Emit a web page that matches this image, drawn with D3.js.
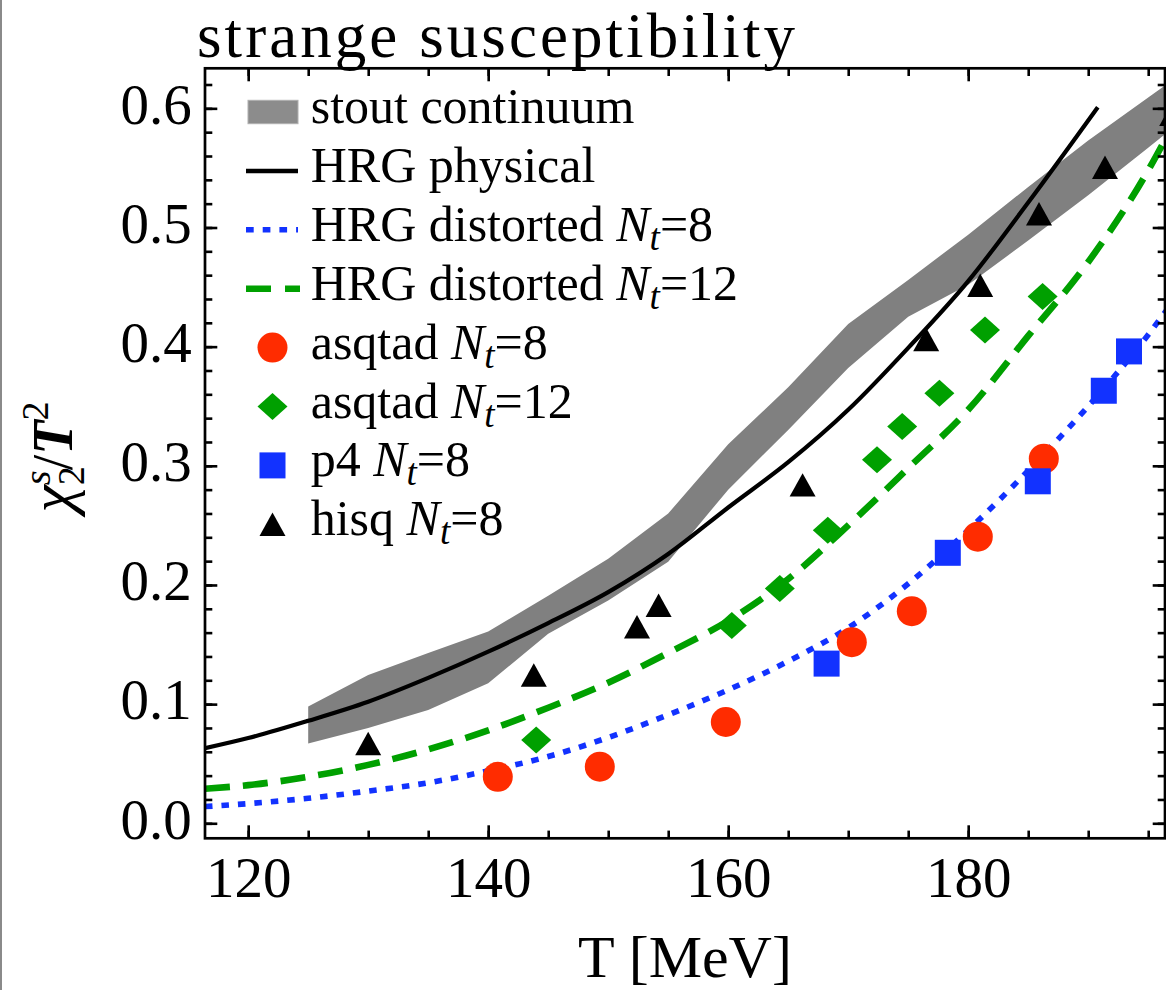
<!DOCTYPE html>
<html>
<head>
<meta charset="utf-8">
<script src="https://cdn.jsdelivr.net/npm/d3@7"></script>
<style>
  html, body { margin: 0; padding: 0; background: #fff; }
  svg { display: block; font-family: "Liberation Serif", "Times New Roman", serif; }
</style>
</head>
<body>
<div id="chart"></div>
<script>
/* strange susceptibility chi2s/T^2 vs T */

// stout continuum band
const bandT    = [125, 130, 135, 140, 145, 150, 155, 160, 165, 170, 175, 180, 185, 190, 195, 198];
const bandHigh = [0.098, 0.1245, 0.143, 0.161, 0.191, 0.222, 0.260, 0.318, 0.366, 0.419, 0.456, 0.494, 0.534, 0.573, 0.609, 0.631];
const bandLow  = [0.067, 0.080, 0.095, 0.1175, 0.159, 0.187, 0.2195, 0.280, 0.330, 0.382, 0.425, 0.452, 0.489, 0.527, 0.567, 0.591];

// HRG curves
const hrgPhysT = [116.4, 120, 125, 130, 135, 140, 145, 150, 155, 160, 165, 170, 175, 180, 185, 190.8];
const hrgPhys  = [0.063, 0.0715, 0.086, 0.102, 0.122, 0.144, 0.168, 0.194, 0.226, 0.265, 0.303, 0.347, 0.399, 0.455, 0.521, 0.601];
const hrgDistT = [116.4, 120, 125, 130, 135, 140, 145, 150, 155, 160, 165, 170, 175, 180, 185, 190, 195, 197];
const hrgDist8  = [0.014, 0.0165, 0.021, 0.027, 0.034, 0.044, 0.056, 0.072, 0.091, 0.112, 0.136, 0.164, 0.201, 0.246, 0.296, 0.350, 0.410, 0.437];
const hrgDist12 = [0.029, 0.032, 0.039, 0.049, 0.062, 0.078, 0.097, 0.118, 0.143, 0.170, 0.205, 0.250, 0.298, 0.347, 0.409, 0.471, 0.548, 0.585];

// lattice points
const asqtad8T  = [140.8, 149.3, 159.8, 170.3, 175.3, 180.8, 186.3];
const asqtad8V  = [0.039, 0.0475, 0.085, 0.152, 0.178, 0.2405, 0.306];
const asqtad12T = [144.0, 160.3, 164.3, 168.3, 172.4, 174.5, 177.6, 181.4, 186.2];
const asqtad12V = [0.070, 0.166, 0.197, 0.246, 0.305, 0.333, 0.361, 0.414, 0.442];
const p4T = [168.2, 178.3, 185.8, 191.3, 193.4];
const p4V = [0.134, 0.227, 0.287, 0.363, 0.396];
const hisqT = [130.0, 143.8, 152.4, 154.2, 166.2, 176.5, 181.0, 185.9, 191.4, 197.0];
const hisqV = [0.067, 0.1245, 0.165, 0.183, 0.284, 0.406, 0.4515, 0.5115, 0.5505, 0.595];

// axes
const xMajor = [120, 140, 160, 180];
const xMinor = d3.range(120, 196, 5);
const yMajor = [0.0, 0.1, 0.2, 0.3, 0.4, 0.5, 0.6];
const yMinor = d3.range(0, 0.63, 0.02);

// legend
const legendNames = ["stout continuum", "HRG physical", "HRG distorted", "HRG distorted", "asqtad", "asqtad", "p4", "hisq"];
const legendNt    = [null, null, "8", "12", "8", "12", "8", "8"];
const legendKind  = ["band", "solid", "dot", "dash", "circle", "diamond", "square", "triangle"];

const red = "#ff2c00", blue = "#1232ff", green = "#00a000", gray = "#808080";

const width = 1166, height = 990;
const pLeft = 205, pRight = 1165, pTop = 68.3, pBottom = 838.3;

const svg = d3.select("#chart").append("svg")
  .attr("width", width)
  .attr("height", height);

// left page border
svg.append("rect").attr("x", 0).attr("y", 0).attr("width", 2).attr("height", height).attr("fill", "#8a8a8a");

const x = d3.scaleLinear().domain([116.4, 196.4]).range([pLeft, pRight]);
const y = d3.scaleLinear().domain([-0.0126, 0.6336]).range([pBottom, pTop]);

svg.append("clipPath").attr("id", "plotclip")
  .append("rect").attr("x", pLeft).attr("y", pTop).attr("width", pRight - pLeft).attr("height", pBottom - pTop);

const plot = svg.append("g").attr("clip-path", "url(#plotclip)");

// band
const area = d3.area()
  .x((d, i) => x(bandT[i]))
  .y0((d, i) => y(bandLow[i]))
  .y1((d, i) => y(bandHigh[i]));
plot.append("path").datum(bandT).attr("d", area).attr("fill", gray);

// markers
const marks = svg.append("g");
function diamondPath(cx, cy) {
  return `M${cx},${cy - 13.5}L${cx + 15},${cy}L${cx},${cy + 13.5}L${cx - 15},${cy}Z`;
}
function trianglePath(cx, cy) {
  return `M${cx},${cy - 11.7}L${cx + 13},${cy + 11.7}L${cx - 13},${cy + 11.7}Z`;
}
marks.append("g").selectAll("circle").data(asqtad8T).join("circle")
  .attr("cx", d => x(d)).attr("cy", (d, i) => y(asqtad8V[i])).attr("r", 15).attr("fill", red);
marks.append("g").selectAll("path").data(asqtad12T).join("path")
  .attr("d", (d, i) => diamondPath(x(d), y(asqtad12V[i]))).attr("fill", green);
marks.append("g").selectAll("rect").data(p4T).join("rect")
  .attr("x", d => x(d) - 13).attr("y", (d, i) => y(p4V[i]) - 13)
  .attr("width", 26).attr("height", 26).attr("fill", blue);
marks.append("g").selectAll("path").data(hisqT).join("path")
  .attr("d", (d, i) => trianglePath(x(d), y(hisqV[i]))).attr("fill", "#000");

// HRG lines
const line = (ts) => d3.line().x((d, i) => x(ts[i])).y(d => y(d)).curve(d3.curveMonotoneX);
plot.append("path").datum(hrgPhys).attr("d", line(hrgPhysT))
  .attr("fill", "none").attr("stroke", "#000").attr("stroke-width", 4.2);
plot.append("path").datum(hrgDist8).attr("d", line(hrgDistT))
  .attr("fill", "none").attr("stroke", blue).attr("stroke-width", 5.6).attr("stroke-dasharray", "7.5 9");
plot.append("path").datum(hrgDist12).attr("d", line(hrgDistT))
  .attr("fill", "none").attr("stroke", green).attr("stroke-width", 6.6).attr("stroke-dasharray", "25 13");

// axes (ticks inside the frame)
const fmt = d3.format(".1f");
function axisStyle(g) {
  g.select(".domain").remove();
  g.selectAll("line").attr("stroke", "#000").attr("stroke-width", 2.6);
  g.selectAll("text").attr("font-size", 57).attr("fill", "#000").attr("font-family", "Liberation Serif, serif");
}
svg.append("g").attr("transform", `translate(0,${pBottom})`)
  .call(d3.axisBottom(x).tickValues(xMinor).tickSize(-7.7).tickFormat("")).call(axisStyle);
svg.append("g").attr("transform", `translate(0,${pBottom})`)
  .call(d3.axisBottom(x).tickValues(xMajor).tickSize(-13).tickPadding(18).tickFormat(d3.format("d"))).call(axisStyle);
svg.append("g").attr("transform", `translate(0,${pTop})`)
  .call(d3.axisTop(x).tickValues(xMinor).tickSize(-7.7).tickFormat("")).call(axisStyle);
svg.append("g").attr("transform", `translate(0,${pTop})`)
  .call(d3.axisTop(x).tickValues(xMajor).tickSize(-13).tickFormat("")).call(axisStyle);
svg.append("g").attr("transform", `translate(${pLeft},0)`)
  .call(d3.axisLeft(y).tickValues(yMinor).tickSize(-7.3).tickFormat("")).call(axisStyle);
svg.append("g").attr("transform", `translate(${pLeft},0)`)
  .call(d3.axisLeft(y).tickValues(yMajor).tickSize(-12.3).tickPadding(13.3).tickFormat(fmt)).call(axisStyle)
  .selectAll("text").attr("dy", "0.26em");
svg.append("g").attr("transform", `translate(${pRight},0)`)
  .call(d3.axisRight(y).tickValues(yMinor).tickSize(-7.3).tickFormat("")).call(axisStyle);
svg.append("g").attr("transform", `translate(${pRight},0)`)
  .call(d3.axisRight(y).tickValues(yMajor).tickSize(-12.3).tickFormat("")).call(axisStyle);

// frame
svg.append("rect").attr("x", pLeft).attr("y", pTop).attr("width", pRight - pLeft).attr("height", pBottom - pTop)
  .attr("fill", "none").attr("stroke", "#000").attr("stroke-width", 2.7);

// title
svg.append("text").attr("x", 197).attr("y", 57).attr("font-size", 63)
  .attr("textLength", 598).attr("lengthAdjust", "spacing")
  .text("strange susceptibility");

// axis titles
svg.append("text").attr("x", 685).attr("y", 977).attr("font-size", 60)
  .attr("text-anchor", "middle").text("T [MeV]");

const yt = svg.append("text").attr("transform", "translate(72,457) rotate(-90)")
  .attr("text-anchor", "middle").attr("font-size", 56);
yt.append("tspan").attr("font-style", "italic").attr("font-size", 62).text("χ");
yt.append("tspan").attr("font-size", 38).attr("dy", 12).text("2");
yt.append("tspan").attr("font-size", 38).attr("font-style", "italic").attr("dx", -19).attr("dy", -34).text("s");
yt.append("tspan").attr("dy", 22).text("/");
yt.append("tspan").attr("font-style", "italic").attr("font-weight", "bold").text("T");
yt.append("tspan").attr("font-size", 38).attr("dy", -24).text("2");

// legend
const lg = svg.append("g");
legendNames.forEach((name, i) => {
  const base = 123 + i * 58.9;
  const cy = base - 11;
  const cx = 272.5;
  const kind = legendKind[i];
  if (kind === "band") {
    lg.append("rect").attr("x", 248).attr("y", cy - 11.7).attr("width", 50).attr("height", 23.4)
      .attr("fill", "#8c8c8c").attr("stroke", "#b0b0b0").attr("stroke-width", 1);
  } else if (kind === "solid") {
    lg.append("line").attr("x1", 246).attr("x2", 298).attr("y1", cy).attr("y2", cy)
      .attr("stroke", "#000").attr("stroke-width", 4.5);
  } else if (kind === "dot") {
    lg.append("line").attr("x1", 246).attr("x2", 298).attr("y1", cy).attr("y2", cy)
      .attr("stroke", blue).attr("stroke-width", 5.6).attr("stroke-dasharray", "7.7 9");
  } else if (kind === "dash") {
    lg.append("line").attr("x1", 246).attr("x2", 300).attr("y1", cy).attr("y2", cy)
      .attr("stroke", green).attr("stroke-width", 6.6).attr("stroke-dasharray", "25 14");
  } else if (kind === "circle") {
    lg.append("circle").attr("cx", cx).attr("cy", cy).attr("r", 15).attr("fill", red);
  } else if (kind === "diamond") {
    lg.append("path").attr("d", diamondPath(cx, cy)).attr("fill", green);
  } else if (kind === "square") {
    lg.append("rect").attr("x", cx - 13).attr("y", cy - 13).attr("width", 26).attr("height", 26).attr("fill", blue);
  } else {
    lg.append("path").attr("d", trianglePath(cx, cy)).attr("fill", "#000");
  }
  const t = lg.append("text").attr("x", 310.7).attr("y", base).attr("font-size", 50);
  t.append("tspan").text(name + (legendNt[i] ? " " : ""));
  if (legendNt[i]) {
    t.append("tspan").attr("font-style", "italic").text("N");
    t.append("tspan").attr("font-style", "italic").attr("font-size", 37).attr("dy", 9).text("t");
    t.append("tspan").attr("dy", -9).text("=" + legendNt[i]);
  }
});
</script>
</body>
</html>
